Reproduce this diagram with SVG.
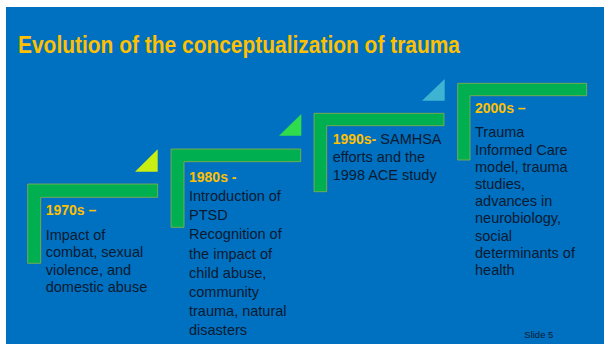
<svg xmlns="http://www.w3.org/2000/svg" width="604" height="345" viewBox="0 0 604 345">
  <style>
    .bar { fill: #00B050; stroke: #8FAE4A; stroke-width: 0.8; }
    .yr { font-family: "Liberation Sans", Arial, sans-serif; font-weight: bold; font-size: 14px; fill: #FFC000; }
    .body { font-family: "Liberation Sans", Arial, sans-serif; font-size: 14.5px; fill: #0A1A30; }
    .title { font-family: "Liberation Sans", Arial, sans-serif; font-weight: bold; font-size: 24px; fill: #FFC000; }
  </style>
  <rect x="0" y="0" width="604" height="345" fill="#FFFFFF"/>
  <rect x="6" y="7" width="598" height="337" fill="#0070C0"/>
  <text class="title" x="18" y="53" textLength="442" lengthAdjust="spacingAndGlyphs">Evolution of the conceptualization of trauma</text>

  <g id="node-1970s">
    <polygon points="135,171.7 157.7,149.3 157.7,171.7" fill="#C8EE12"/>
    <path class="bar" d="M27.7,184 H157.7 V197.3 H40.7 V263.3 H27.7 Z"/>
    <text class="yr" x="45.7" y="215">1970s –</text>
    <text class="body" x="45.7" y="240">Impact of</text>
    <text class="body" x="45.7" y="257.3">combat, sexual</text>
    <text class="body" x="45.7" y="274.7">violence, and</text>
    <text class="body" x="45.7" y="292">domestic abuse</text>
  </g>

  <g id="node-1980s">
    <polygon points="279,135.7 301.3,114 301.3,135.7" fill="#2EDC4E"/>
    <path class="bar" d="M171,149 H300.7 V161.7 H184 V227.3 H171 Z"/>
    <text class="yr" x="189" y="181.7">1980s -</text>
    <text class="body" x="189" y="200.7">Introduction of</text>
    <text class="body" x="189" y="220">PTSD</text>
    <text class="body" x="189" y="239.3">Recognition of</text>
    <text class="body" x="189" y="258.5">the impact of</text>
    <text class="body" x="189" y="277.7">child abuse,</text>
    <text class="body" x="189" y="297">community</text>
    <text class="body" x="189" y="316.2">trauma, natural</text>
    <text class="body" x="189" y="335.4">disasters</text>
  </g>

  <g id="node-1990s">
    <polygon points="422,100.7 444.7,79 444.7,100.7" fill="#3EB4D2"/>
    <path class="bar" d="M314,113.3 H444 V125.7 H326.7 V191.7 H314 Z"/>
    <text x="332.7" y="144"><tspan class="yr">1990s-</tspan><tspan class="body"> SAMHSA</tspan></text>
    <text class="body" x="332.7" y="162.3">efforts and the</text>
    <text class="body" x="332.7" y="180">1998 ACE study</text>
  </g>

  <g id="node-2000s">
    <path class="bar" d="M457.7,83.3 H586.7 V95.7 H470 V160 H457.7 Z"/>
    <text class="yr" x="475" y="113.3">2000s –</text>
    <text class="body" x="475" y="137.3">Trauma</text>
    <text class="body" x="475" y="154.5">Informed Care</text>
    <text class="body" x="475" y="171.7">model, trauma</text>
    <text class="body" x="475" y="188.9">studies,</text>
    <text class="body" x="475" y="206.1">advances in</text>
    <text class="body" x="475" y="223.3">neurobiology,</text>
    <text class="body" x="475" y="240.5">social</text>
    <text class="body" x="475" y="257.7">determinants of</text>
    <text class="body" x="475" y="275">health</text>
  </g>

  <g id="connectors"></g>

  <text x="524.3" y="338.3" font-family="Liberation Sans, Arial, sans-serif" font-size="9.5" fill="#0A1A30">Slide 5</text>
</svg>
